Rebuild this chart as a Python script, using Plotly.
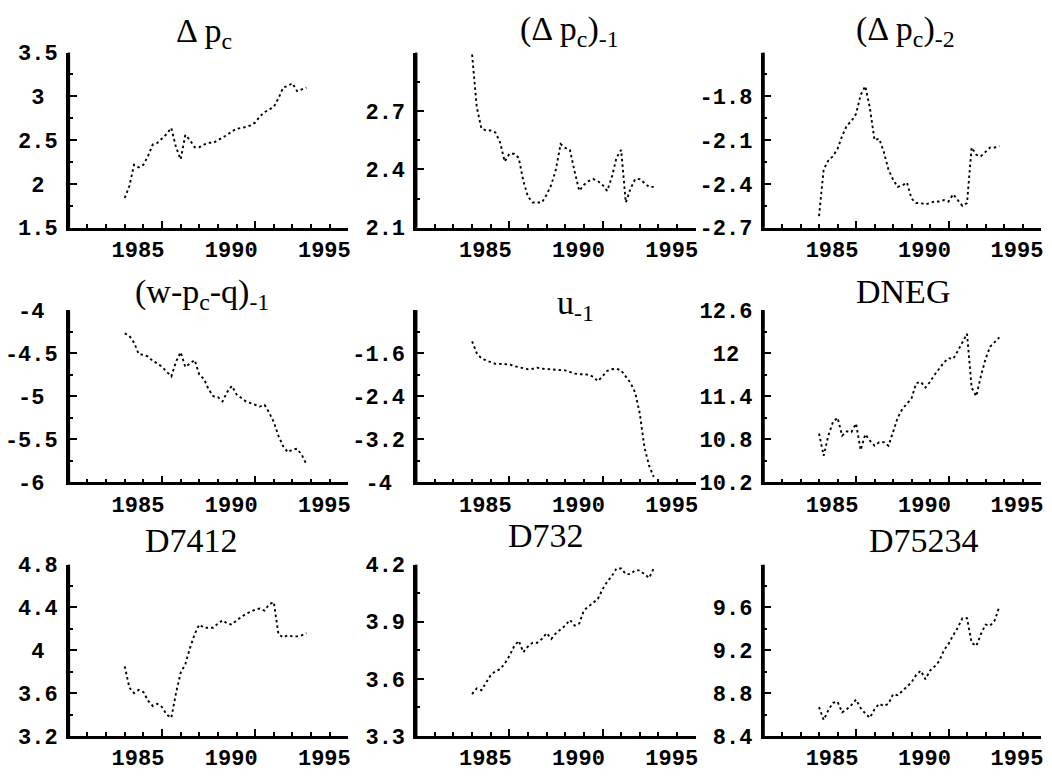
import plotly.graph_objects as go

# quarterly observations 1983Q1 .. 1992Q4
years = [1983 + q / 4 for q in range(40)]

dpc = [1.84, 1.98, 2.22, 2.19, 2.22, 2.32, 2.45, 2.47, 2.52, 2.57, 2.64, 2.42, 2.28, 2.56, 2.50, 2.42,
       2.42, 2.45, 2.47, 2.47, 2.50, 2.53, 2.56, 2.60, 2.63, 2.64, 2.65, 2.67, 2.70, 2.77, 2.82, 2.85,
       2.88, 2.98, 3.10, 3.12, 3.15, 3.06, 3.08, 3.10]
dpc_lag1 = [2.99, 2.72, 2.61, 2.60, 2.60, 2.59, 2.54, 2.44, 2.48, 2.48, 2.46, 2.34, 2.26, 2.23, 2.23, 2.23,
            2.27, 2.32, 2.40, 2.53, 2.51, 2.50, 2.39, 2.29, 2.32, 2.34, 2.35, 2.34, 2.32, 2.29, 2.36, 2.46,
            2.50, 2.23, 2.30, 2.35, 2.35, 2.33, 2.31, 2.31]
dpc_lag2 = [-2.62, -2.30, -2.24, -2.21, -2.16, -2.07, -2.00, -1.97, -1.92, -1.79, -1.73, -1.88, -2.10, -2.09,
            -2.18, -2.30, -2.37, -2.42, -2.41, -2.39, -2.50, -2.53, -2.53, -2.54, -2.53, -2.52, -2.52, -2.51,
            -2.52, -2.47, -2.51, -2.55, -2.53, -2.15, -2.20, -2.21, -2.18, -2.15, -2.15, -2.14]
wpq_lag1 = [-4.27, -4.30, -4.38, -4.51, -4.52, -4.54, -4.59, -4.62, -4.66, -4.71, -4.77, -4.60, -4.49, -4.66,
            -4.62, -4.58, -4.75, -4.80, -4.92, -5.00, -5.01, -5.06, -4.95, -4.88, -4.98, -5.02, -5.06, -5.08,
            -5.10, -5.12, -5.10, -5.19, -5.30, -5.46, -5.58, -5.65, -5.62, -5.61, -5.68, -5.79]
u_lag1 = [-1.38, -1.60, -1.70, -1.73, -1.76, -1.80, -1.80, -1.80, -1.81, -1.84, -1.86, -1.88, -1.90, -1.89,
          -1.87, -1.89, -1.89, -1.90, -1.91, -1.91, -1.92, -1.95, -1.98, -1.99, -1.99, -2.00, -2.04, -2.12,
          -2.03, -1.93, -1.90, -1.89, -1.92, -2.03, -2.15, -2.33, -2.72, -3.35, -3.69, -3.90]
dneg = [10.88, 10.57, 10.85, 11.04, 11.10, 10.85, 10.91, 10.90, 11.02, 10.65, 10.87, 10.78, 10.71, 10.76,
        10.76, 10.71, 10.90, 11.10, 11.22, 11.30, 11.37, 11.58, 11.60, 11.52, 11.60, 11.70, 11.78, 11.87,
        11.93, 11.92, 12.03, 12.16, 12.27, 11.52, 11.40, 11.68, 11.92, 12.09, 12.16, 12.22]
d7412 = [3.85, 3.65, 3.60, 3.63, 3.61, 3.53, 3.48, 3.50, 3.47, 3.40, 3.37, 3.60, 3.79, 3.87, 4.02, 4.15,
         4.24, 4.21, 4.21, 4.21, 4.25, 4.28, 4.25, 4.24, 4.28, 4.31, 4.34, 4.36, 4.38, 4.39, 4.37, 4.43,
         4.45, 4.15, 4.12, 4.14, 4.13, 4.13, 4.14, 4.16]
d732 = [3.52, 3.55, 3.54, 3.58, 3.62, 3.64, 3.65, 3.68, 3.72, 3.77, 3.80, 3.74, 3.77, 3.79, 3.79, 3.81,
        3.84, 3.81, 3.84, 3.86, 3.88, 3.91, 3.88, 3.89, 3.96, 3.98, 4.00, 4.02, 4.07, 4.11, 4.14, 4.18,
        4.18, 4.15, 4.15, 4.17, 4.17, 4.15, 4.13, 4.18]
d75234 = [8.67, 8.55, 8.64, 8.71, 8.72, 8.62, 8.65, 8.69, 8.74, 8.66, 8.61, 8.57, 8.65, 8.70, 8.68, 8.70,
          8.79, 8.78, 8.82, 8.86, 8.90, 8.97, 9.01, 8.93, 9.01, 9.05, 9.10, 9.20, 9.26, 9.34, 9.41, 9.50,
          9.50, 9.27, 9.24, 9.35, 9.44, 9.43, 9.48, 9.61]

titles = ["\u0394 p<sub>c</sub>", "(\u0394 p<sub>c</sub>)<sub>-1</sub>", "(\u0394 p<sub>c</sub>)<sub>-2</sub>",
          "(w-p<sub>c</sub>-q)<sub>-1</sub>", "u<sub>-1</sub>", "DNEG",
          "D7412", "D732", "D75234"]
series = [dpc, dpc_lag1, dpc_lag2, wpq_lag1, u_lag1, dneg, d7412, d732, d75234]

y_ranges = [(1.5, 3.5), (2.1, 3.0), (-2.7, -1.5), (-6, -4), (-4, -0.8), (10.2, 12.6),
            (3.2, 4.8), (3.3, 4.2), (8.4, 10.0)]
y_tickvals = [[1.5, 2, 2.5, 3, 3.5], [2.1, 2.4, 2.7, 3.0], [-2.7, -2.4, -2.1, -1.8, -1.5],
              [-6, -5.5, -5, -4.5, -4], [-4, -3.2, -2.4, -1.6, -0.8], [10.2, 10.8, 11.4, 12, 12.6],
              [3.2, 3.6, 4, 4.4, 4.8], [3.3, 3.6, 3.9, 4.2], [8.4, 8.8, 9.2, 9.6, 10.0]]
y_ticktext = [["1.5", "2", "2.5", "3", "3.5"], ["2.1", "2.4", "2.7", " "], ["-2.7", "-2.4", "-2.1", "-1.8", " "],
              ["-6", "-5.5", "-5", "-4.5", "-4"], ["-4", "-3.2", "-2.4", "-1.6", " "],
              ["10.2", "10.8", "11.4", "12", "12.6"], ["3.2", "3.6", "4", "4.4", "4.8"],
              ["3.3", "3.6", "3.9", "4.2"], ["8.4", "8.8", "9.2", "9.6", " "]]
y_minor = [0.25, 0.15, 0.15, 0.25, 0.4, 0.3, 0.2, 0.15, 0.2]
x_tickvals = [1985, 1990, 1995]
x_ticktext = ["1985", "1990", "1995"]

W, H = 1052, 780
cols = [(69, 349), (417, 697), (765, 1043)]
rows = [(44, 225), (310, 488), (573, 750)]
title_pos = [(204, 24), (571, 22), (907, 22), (202, 293), (577, 305), (905, 291), (192, 548), (547, 543), (926, 548)]


def pad(lbls):
    n = max(len(s.strip()) for s in lbls)
    out = []
    for s in lbls:
        if s.strip() == "":
            out.append(s)
            continue
        d = n - len(s)
        left = d // 2
        out.append("\u00a0" * left + s + "\u00a0" * (d - left))
    return out


fig = go.Figure()
tickfont = dict(family="Liberation Mono", size=22, color="black", weight="bold")
layout = {}
shapes = []
for i in range(9):
    r, c = divmod(i, 3)
    ax = "" if i == 0 else str(i + 1)
    fig.add_trace(go.Scatter(x=years, y=series[i], mode="lines", xaxis="x" + ax, yaxis="y" + ax,
                             line=dict(color="black", width=1.9, dash="2.5px,3px"),
                             showlegend=False, hoverinfo="skip"))
    x0, x1 = cols[c]
    yt, yb = rows[r]
    layout["xaxis" + ax] = dict(
        domain=[x0 / W, x1 / W], anchor="y" + ax, range=[1980, 1995],
        showline=True, linecolor="black", linewidth=2.5, showgrid=False, zeroline=False, mirror=False,
        tickmode="array", tickvals=x_tickvals, ticktext=x_ticktext, ticks="inside", ticklen=7,
        tickwidth=2, tickcolor="black", tickfont=tickfont, ticklabelshift=-24,
        minor=dict(dtick=1, tick0=1980, ticks="inside", ticklen=4, tickwidth=1.5, tickcolor="black"),
        fixedrange=True,
    )
    layout["yaxis" + ax] = dict(
        domain=[1 - yb / H, 1 - yt / H], anchor="x" + ax, range=list(y_ranges[i]),
        showline=True, linecolor="black", linewidth=2.5, showgrid=False, zeroline=False, mirror=False,
        tickmode="array", tickvals=y_tickvals[i], ticktext=pad(y_ticktext[i]), ticks="inside", ticklen=8,
        tickwidth=2, tickcolor="black", tickfont=tickfont, ticklabelstandoff=4,
        minor=dict(dtick=y_minor[i], tick0=y_ranges[i][0], ticks="inside", ticklen=4, tickwidth=1.5,
                   tickcolor="black"),
        fixedrange=True,
    )
    # vertical axis line tied to the subplot's own domain
    shapes.append(dict(type="line", xref="x" + ax + " domain", yref="y" + ax + " domain",
                       x0=0, x1=0, y0=0, y1=1, line=dict(color="black", width=2.5), layer="above"))

annotations = []
for i in range(9):
    cx, cy = title_pos[i]
    annotations.append(dict(text=titles[i], x=cx / W, y=1 - cy / H, xref="paper", yref="paper",
                            xanchor="center", yanchor="middle", showarrow=False,
                            font=dict(family="Liberation Serif", size=34, color="black")))

fig.update_layout(width=W, height=H, margin=dict(l=0, r=0, t=0, b=0), paper_bgcolor="white",
                  plot_bgcolor="white", annotations=annotations, shapes=shapes, **layout)
fig.write_html("out.html", config={"displayModeBar": False},
               post_script="document.body.style.margin='0';document.body.style.padding='0';"
                           "document.body.style.overflow='hidden';")
